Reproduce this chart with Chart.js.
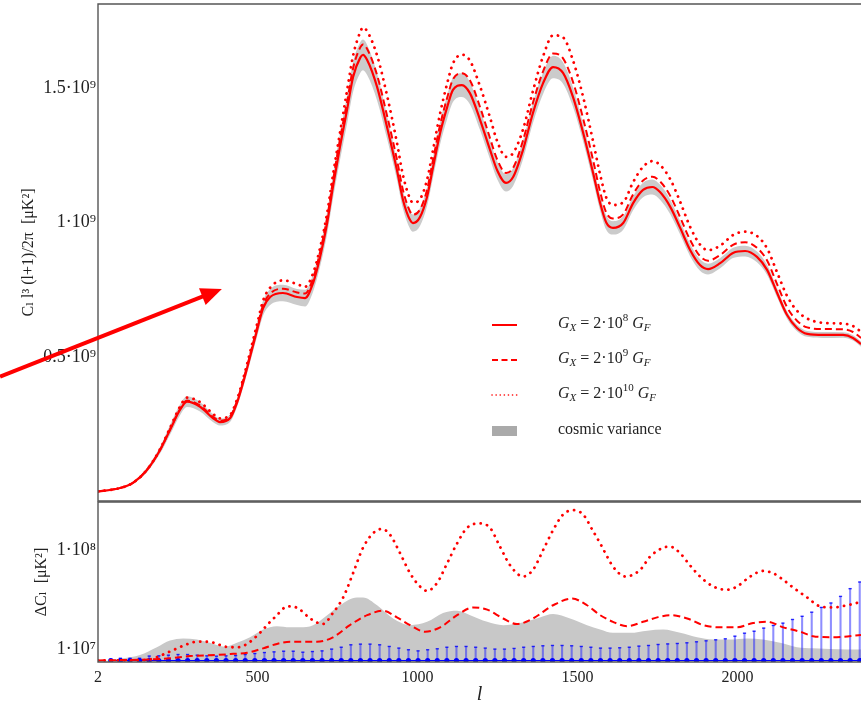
<!DOCTYPE html>
<html>
<head>
<meta charset="utf-8">
<title>CMB spectrum</title>
<script src="https://cdn.jsdelivr.net/npm/chart.js@4.4.1/dist/chart.umd.min.js"></script>
<style>
  body { margin: 0; background: #fff; }
  #wrap { position: relative; width: 861px; height: 705px; overflow: hidden; }
  #topChart, #bottomChart { position: absolute; left: 0; }
  #topChart { top: 0; }
  #bottomChart { top: 497px; }
  #legend { position: absolute; left: 0; top: 0; font-family: 'Liberation Serif', 'DejaVu Serif', serif; font-size: 16px; color: #222; }
  .row { position: absolute; left: 491px; height: 20px; display: flex; align-items: center; white-space: nowrap; }
  .row svg { width: 27px; height: 12px; margin-right: 40px; }
  .row span { position: relative; top: -2px; }
  .row sub, .row sup { font-size: 11px; line-height: 0; }
  .row sub { vertical-align: -3px; }
  .row sup { vertical-align: 7px; }
</style>
</head>
<body>
<div id="wrap">
  <canvas id="topChart" width="861" height="503"></canvas>
  <canvas id="bottomChart" width="861" height="208"></canvas>
  <div id="legend"></div>
</div>
<script>
var FONT = "'Liberation Serif', 'DejaVu Serif', serif";
var INK = '#222';
var RED = '#ff0000';
var BLUE = '#0000ff';

var xTicks = [2, 500, 1000, 1500, 2000];
var topTicks = [0.5, 1, 1.5];
var bottomTicks = [10, 100];
var couplingExponents = [8, 9, 10];
var cosmicLabel = 'cosmic variance';

// upper panel: C_l l^3 (l+1)/2pi, units of 1e9 muK^2
var ellTop = [2, 71, 111, 155, 196, 227, 258, 280, 321, 361,
  383, 415, 436, 455, 477, 499, 518, 540, 580, 624,
  649, 674, 696, 718, 736, 758, 780, 799, 821, 830,
  843, 874, 905, 936, 955, 977, 986, 1008, 1030, 1049,
  1071, 1093, 1111, 1139, 1164, 1196, 1227, 1249, 1277, 1299,
  1330, 1361, 1393, 1424, 1455, 1486, 1518, 1549, 1571, 1590,
  1611, 1643, 1674, 1705, 1734, 1758, 1790, 1821, 1852, 1883,
  1908, 1946, 1986, 2024, 2061, 2093, 2124, 2155, 2186, 2218,
  2268, 2330, 2361, 2386];
var clSolid = [0.000, 0.013, 0.032, 0.080, 0.154, 0.229, 0.303, 0.334, 0.315, 0.273,
  0.258, 0.273, 0.329, 0.403, 0.500, 0.600, 0.682, 0.723, 0.738, 0.723,
  0.719, 0.775, 0.872, 0.998, 1.132, 1.281, 1.418, 1.541, 1.612, 1.623,
  1.604, 1.504, 1.355, 1.195, 1.084, 1.009, 0.998, 1.020, 1.095, 1.206,
  1.333, 1.429, 1.493, 1.511, 1.481, 1.381, 1.270, 1.195, 1.147, 1.169,
  1.270, 1.407, 1.519, 1.578, 1.556, 1.467, 1.333, 1.184, 1.072, 1.000,
  0.980, 0.998, 1.072, 1.121, 1.132, 1.113, 1.058, 0.980, 0.898, 0.842,
  0.827, 0.849, 0.887, 0.894, 0.872, 0.823, 0.738, 0.656, 0.608, 0.586,
  0.582, 0.582, 0.571, 0.548];
var clDashed = [0.000, 0.013, 0.032, 0.081, 0.155, 0.231, 0.306, 0.338, 0.320, 0.278,
  0.263, 0.279, 0.335, 0.410, 0.507, 0.609, 0.693, 0.736, 0.754, 0.740,
  0.736, 0.792, 0.890, 1.017, 1.153, 1.308, 1.446, 1.573, 1.650, 1.662,
  1.645, 1.548, 1.398, 1.234, 1.120, 1.041, 1.029, 1.048, 1.121, 1.234,
  1.363, 1.464, 1.532, 1.555, 1.529, 1.428, 1.313, 1.235, 1.184, 1.203,
  1.305, 1.445, 1.563, 1.628, 1.610, 1.523, 1.385, 1.231, 1.113, 1.037,
  1.015, 1.030, 1.105, 1.156, 1.170, 1.153, 1.099, 1.019, 0.935, 0.875,
  0.858, 0.879, 0.917, 0.927, 0.906, 0.858, 0.770, 0.685, 0.635, 0.610,
  0.604, 0.603, 0.593, 0.571];
var clDotted = [0.000, 0.013, 0.032, 0.081, 0.158, 0.236, 0.315, 0.349, 0.332, 0.289,
  0.272, 0.285, 0.341, 0.416, 0.517, 0.622, 0.710, 0.758, 0.785, 0.771,
  0.761, 0.811, 0.906, 1.035, 1.175, 1.333, 1.489, 1.620, 1.707, 1.725,
  1.711, 1.621, 1.473, 1.297, 1.175, 1.088, 1.074, 1.087, 1.158, 1.271,
  1.406, 1.517, 1.591, 1.624, 1.602, 1.505, 1.390, 1.303, 1.244, 1.258,
  1.346, 1.489, 1.619, 1.696, 1.688, 1.603, 1.466, 1.301, 1.178, 1.093,
  1.065, 1.075, 1.150, 1.207, 1.228, 1.214, 1.161, 1.077, 0.984, 0.918,
  0.897, 0.914, 0.953, 0.966, 0.950, 0.903, 0.814, 0.727, 0.672, 0.643,
  0.627, 0.624, 0.615, 0.594];
var cvTop = [0, 0.0015, 0.004, 0.008, 0.013, 0.018, 0.020, 0.020, 0.018, 0.015,
  0.013, 0.014, 0.016, 0.018, 0.021, 0.025, 0.028, 0.030, 0.031, 0.030,
  0.031, 0.032, 0.036, 0.041, 0.045, 0.050, 0.053, 0.056, 0.057, 0.057,
  0.056, 0.050, 0.043, 0.036, 0.034, 0.032, 0.032, 0.033, 0.035, 0.038,
  0.042, 0.044, 0.045, 0.044, 0.041, 0.038, 0.035, 0.033, 0.032, 0.033,
  0.035, 0.037, 0.040, 0.042, 0.040, 0.037, 0.033, 0.030, 0.028, 0.027,
  0.025, 0.025, 0.026, 0.027, 0.028, 0.028, 0.027, 0.025, 0.023, 0.021,
  0.020, 0.019, 0.019, 0.020, 0.020, 0.019, 0.017, 0.014, 0.012, 0.011,
  0.011, 0.010, 0.010, 0.010];

// lower panel: Delta C_l, units of 1e6 muK^2
var ellDotted = [2, 155, 186, 218, 249, 283, 311, 336, 365, 393, 415, 440, 468, 486, 508, 540, 561, 586, 608, 633,
  665, 705, 736, 768, 799, 830, 861, 889, 914, 946, 977, 1008, 1030, 1061, 1093, 1124, 1155, 1196, 1227, 1258,
  1290, 1330, 1361, 1393, 1424, 1455, 1486, 1518, 1549, 1571, 1593, 1611, 1649, 1696, 1727, 1768, 1790, 1821, 1852, 1883,
  1924, 1968, 1999, 2040, 2080, 2111, 2143, 2174, 2218, 2258, 2299, 2343, 2386];
var dDotted = [0, 0.5, 3, 7, 11, 15, 17, 17, 16, 13, 12, 12, 15, 19, 25, 35, 41, 48, 49, 46,
  38, 33, 43, 57, 79, 102, 115, 119, 114, 97, 79, 67, 63, 70, 88, 106, 120, 124, 120, 103,
  86, 76, 82, 100, 118, 132, 136, 132, 117, 106, 94, 85, 76, 82, 94, 102, 103, 97, 86, 76,
  67, 64, 67, 76, 81, 79, 73, 66, 57, 49, 48, 50, 53];
var ellDashed = [2, 164, 227, 289, 374, 424, 468, 518, 561, 602, 686, 736, 789, 843, 893, 936, 977, 1024, 1071, 1124,
  1174, 1218, 1268, 1311, 1361, 1424, 1483, 1530, 1571, 1611, 1655, 1705, 1749, 1790, 1843, 1893, 1946, 1999, 2049, 2093,
  2143, 2196, 2236, 2299, 2386];
var dDashed = [0, 1, 2, 4, 5, 6, 7, 11, 15, 17, 17, 21, 32, 41, 45, 39, 32, 26, 30, 41,
  48, 46, 38, 33, 38, 50, 56, 50, 41, 35, 31, 35, 39, 41, 38, 32, 30, 30, 34, 35,
  30, 26, 22, 21, 23];
var ellCv = [2, 40, 80, 133, 186, 227, 268, 311, 352, 399, 436, 477, 518, 561, 602, 633, 674, 718, 758, 811,
  830, 874, 924, 977, 1030, 1080, 1124, 1165, 1218, 1268, 1321, 1383, 1424, 1477, 1530, 1571, 1611, 1665, 1718, 1768,
  1821, 1874, 1924, 1977, 2030, 2080, 2133, 2186, 2236, 2343, 2386];
var cvLow = [0, 0.5, 2, 5, 12, 18, 20, 19, 16, 12.5, 16, 21, 28, 31, 30, 30, 32, 41, 50, 57,
  57, 50, 38, 32, 35, 43, 45, 41, 35, 32, 34, 39, 42, 38, 32, 28, 25, 25, 27, 28,
  25, 21, 19, 19, 20, 19, 16, 12, 11, 10, 10];
var ellBars = [42, 72, 102, 132, 162, 192, 222, 252, 282, 312, 342, 372, 402, 432, 462, 492, 522, 552, 582, 612,
  642, 672, 702, 732, 762, 792, 822, 852, 882, 912, 942, 972, 1002, 1032, 1062, 1092, 1122, 1152, 1182, 1212,
  1242, 1272, 1302, 1332, 1362, 1392, 1422, 1452, 1482, 1512, 1542, 1572, 1602, 1632, 1662, 1692, 1722, 1752, 1782, 1812,
  1842, 1872, 1902, 1932, 1962, 1992, 2022, 2052, 2082, 2112, 2142, 2172, 2202, 2232, 2262, 2292, 2322, 2352, 2382];
var errBars = [1, 2, 2, 2, 4, 4.2, 4.8, 5.4, 5.4, 4.8, 4.2, 3.9, 4.2, 4.5, 5.4, 6.3, 7.2, 7.8, 8.4, 8.4,
  7.5, 8.1, 8.7, 10.3, 12, 14.2, 14.8, 14.8, 14.2, 12.7, 11.2, 9.7, 8.7, 9.7, 10.6, 12, 12.7, 12.7, 12, 11.2,
  10.3, 10.3, 10.9, 12, 12.7, 13.3, 13.6, 13.6, 13.3, 12.7, 12, 11.2, 11.2, 11.5, 12, 13, 13.6, 14.5, 15, 15.4,
  16, 16.9, 17.8, 18.7, 19.6, 22, 24.7, 26.5, 29.3, 31.7, 33.8, 37.1, 40, 43.7, 48, 52, 58, 65, 71];

// annotation arrow, in data coordinates of the upper panel
var arrowFrom = { x: -304, y: 0.427 };
var arrowTo = { x: 389, y: 0.753 };

var lineDashes = [[], [7, 4], [0.1, 6.5]];
var lineWidths = [2.2, 2, 2.8];
var SUP = { '7': '\u2077', '8': '\u2078', '9': '\u2079' };

function pts(xs, ys) {
  return xs.map(function (x, i) { return { x: x, y: ys[i] }; });
}

function couplingLabel(e) {
  return 'G_X = 2\u00b710^' + e + ' G_F';
}

function curve(label, xs, ys, k, order) {
  return {
    label: label,
    data: pts(xs, ys),
    borderColor: RED,
    borderWidth: lineWidths[k],
    borderDash: lineDashes[k],
    borderCapStyle: k === 2 ? 'round' : 'butt',
    pointRadius: 0,
    cubicInterpolationMode: 'monotone',
    fill: false,
    order: order,
  };
}

// scales reserve half a label of room above/below; the reference has none
function noScalePadding(s) {
  s.paddingTop = 0;
  s.paddingBottom = 0;
  s.paddingLeft = 0;
  s.paddingRight = 0;
}

var framePlugin = {
  id: 'frame',
  afterDatasetsDraw: function (chart) {
    var a = chart.chartArea;
    var ctx = chart.ctx;
    ctx.save();
    ctx.strokeStyle = '#555';
    ctx.lineWidth = 1.4;
    ctx.beginPath();
    ctx.moveTo(chart.width + 2, a.top);
    ctx.lineTo(a.left, a.top);
    ctx.lineTo(a.left, a.bottom);
    ctx.lineTo(chart.width + 2, a.bottom);
    ctx.stroke();
    ctx.restore();
  },
};

var arrowPlugin = {
  id: 'arrow',
  afterDraw: function (chart) {
    var sx = chart.scales.x;
    var sy = chart.scales.y;
    var ctx = chart.ctx;
    var x0 = sx.getPixelForValue(arrowFrom.x), y0 = sy.getPixelForValue(arrowFrom.y);
    var x1 = sx.getPixelForValue(arrowTo.x), y1 = sy.getPixelForValue(arrowTo.y);
    var ang = Math.atan2(y1 - y0, x1 - x0);
    var head = 21, half = 9;
    var bx = x1 - head * Math.cos(ang), by = y1 - head * Math.sin(ang);
    ctx.save();
    ctx.strokeStyle = RED;
    ctx.fillStyle = RED;
    ctx.lineWidth = 4;
    ctx.beginPath();
    ctx.moveTo(x0, y0);
    ctx.lineTo(bx + 2 * Math.cos(ang), by + 2 * Math.sin(ang));
    ctx.stroke();
    ctx.beginPath();
    ctx.moveTo(x1, y1);
    ctx.lineTo(bx + half * Math.sin(ang), by - half * Math.cos(ang));
    ctx.lineTo(bx - half * Math.sin(ang), by + half * Math.cos(ang));
    ctx.closePath();
    ctx.fill();
    ctx.restore();
  },
};

function yAxis(min, max, ticks, fmt, title, titlePad) {
  return {
    type: 'linear',
    min: min,
    max: max,
    afterBuildTicks: function (s) { s.ticks = ticks.map(function (v) { return { value: v }; }); },
    afterFit: function (s) { s.width = 98; noScalePadding(s); },
    grid: { display: false, drawTicks: false },
    border: { display: false },
    ticks: { padding: 2, color: INK, font: { family: FONT, size: 18 }, callback: fmt },
    title: { display: true, text: title, color: INK, font: { family: FONT, size: 16 }, padding: { top: titlePad, bottom: 0 } },
  };
}

var topDatasets = couplingExponents.map(function (e, k) {
  return curve(couplingLabel(e), ellTop, [clSolid, clDashed, clDotted][k], k, k + 1);
});
topDatasets.push({
  label: cosmicLabel,
  data: pts(ellTop, clSolid.map(function (v, i) { return v + cvTop[i]; })),
  borderWidth: 0,
  pointRadius: 0,
  backgroundColor: '#cbcbcb',
  cubicInterpolationMode: 'monotone',
  fill: '+1',
  order: 10,
});
topDatasets.push({
  label: cosmicLabel + ' (lower)',
  data: pts(ellTop, clSolid.map(function (v, i) { return v - cvTop[i]; })),
  borderWidth: 0,
  pointRadius: 0,
  cubicInterpolationMode: 'monotone',
  fill: false,
  order: 11,
});

new Chart(document.getElementById('topChart'), {
  type: 'line',
  data: { datasets: topDatasets },
  options: {
    responsive: false,
    animation: false,
    layout: { autoPadding: false, padding: { top: 4, bottom: 2, left: 0, right: 0 } },
    plugins: { legend: { display: false }, tooltip: { enabled: false } },
    scales: {
      x: { type: 'linear', min: 2, max: 2386, display: false },
      y: yAxis(-0.0353, 1.8123, topTicks, function (v) {
        return String(v) + '\u00b710\u2079';
      }, 'C\u2097 l\u00b3 (l+1)/2\u03c0  [\u03bcK\u00b2]', 19),
    },
  },
  plugins: [framePlugin, arrowPlugin],
});

new Chart(document.getElementById('bottomChart'), {
  type: 'line',
  data: {
    datasets: [
      curve(couplingLabel(10), ellDotted, dDotted, 2, 1),
      curve(couplingLabel(9), ellDashed, dDashed, 1, 2),
      {
        label: 'data',
        data: pts(ellBars, ellBars.map(function () { return 0; })),
        borderColor: BLUE,
        borderWidth: 1.2,
        pointRadius: 2.6,
        pointBackgroundColor: BLUE,
        pointBorderWidth: 0,
        order: 3,
      },
      {
        label: 'error caps',
        data: pts(ellBars, errBars),
        showLine: false,
        pointStyle: 'line',
        pointRadius: 1.6,
        pointBorderWidth: 1.4,
        pointBorderColor: 'rgba(0,0,255,0.8)',
        order: 4,
      },
      {
        type: 'bar',
        label: 'error',
        data: ellBars.map(function (l, i) { return { x: l, y: [0, errBars[i]] }; }),
        backgroundColor: 'rgba(30,30,255,0.5)',
        borderWidth: 0,
        barThickness: 1.4,
        grouped: false,
        order: 5,
      },
      {
        label: cosmicLabel,
        data: pts(ellCv, cvLow),
        borderWidth: 0,
        pointRadius: 0,
        backgroundColor: '#c8c8c8',
        cubicInterpolationMode: 'monotone',
        fill: 'origin',
        order: 10,
      },
    ],
  },
  options: {
    responsive: false,
    animation: false,
    layout: { autoPadding: false, padding: { top: 5, bottom: 0, left: 0, right: 0 } },
    plugins: { legend: { display: false }, tooltip: { enabled: false } },
    scales: {
      x: {
        type: 'linear',
        min: 2,
        max: 2386,
        offset: false,
        afterBuildTicks: function (s) { s.ticks = xTicks.map(function (v) { return { value: v }; }); },
        afterFit: function (s) { s.height = 43; noScalePadding(s); },
        grid: { display: false, drawTicks: false },
        border: { display: false },
        ticks: {
          padding: 6, maxRotation: 0, autoSkip: false, color: INK, font: { family: FONT, size: 16 },
          callback: function (v) { return String(v); },
        },
        title: { display: true, text: 'l', color: INK, font: { family: FONT, size: 20, style: 'italic', lineHeight: 1 }, padding: { top: 0, bottom: 0 } },
      },
      y: yAxis(-1.36, 143.4, bottomTicks, function (v) {
        return '1\u00b710' + SUP[String(Math.round(Math.log10(v)) + 6)];
      }, '\u0394C\u2097  [\u03bcK\u00b2]', 32),
    },
  },
  plugins: [framePlugin],
});

// legend, drawn as html so the sub/superscripts stay real text
var legendTops = [315, 350, 385, 421];
var legendDash = ['', '6,3.5', '0.1,4'];
var legend = document.getElementById('legend');
couplingExponents.forEach(function (e, k) {
  var dash = legendDash[k] ? ' stroke-dasharray="' + legendDash[k] + '"' : '';
  var cap = k === 2 ? ' stroke-linecap="round"' : '';
  var row = document.createElement('div');
  row.className = 'row';
  row.style.top = legendTops[k] + 'px';
  row.innerHTML = '<svg viewBox="0 0 27 12"><line x1="1" y1="6" x2="26" y2="6" stroke="' + RED +
    '" stroke-width="' + (k === 2 ? 1.6 : 2) + '"' + dash + cap + '/></svg>' +
    '<span><i>G</i><sub><i>X</i></sub> = 2\u00b710<sup>' + e + '</sup> <i>G</i><sub><i>F</i></sub></span>';
  legend.appendChild(row);
});
var cvRow = document.createElement('div');
cvRow.className = 'row';
cvRow.style.top = legendTops[3] + 'px';
cvRow.innerHTML = '<svg viewBox="0 0 27 12"><rect x="1" y="1" width="25" height="10" fill="#aaaaaa"/></svg><span>' + cosmicLabel + '</span>';
legend.appendChild(cvRow);
</script>
</body>
</html>
